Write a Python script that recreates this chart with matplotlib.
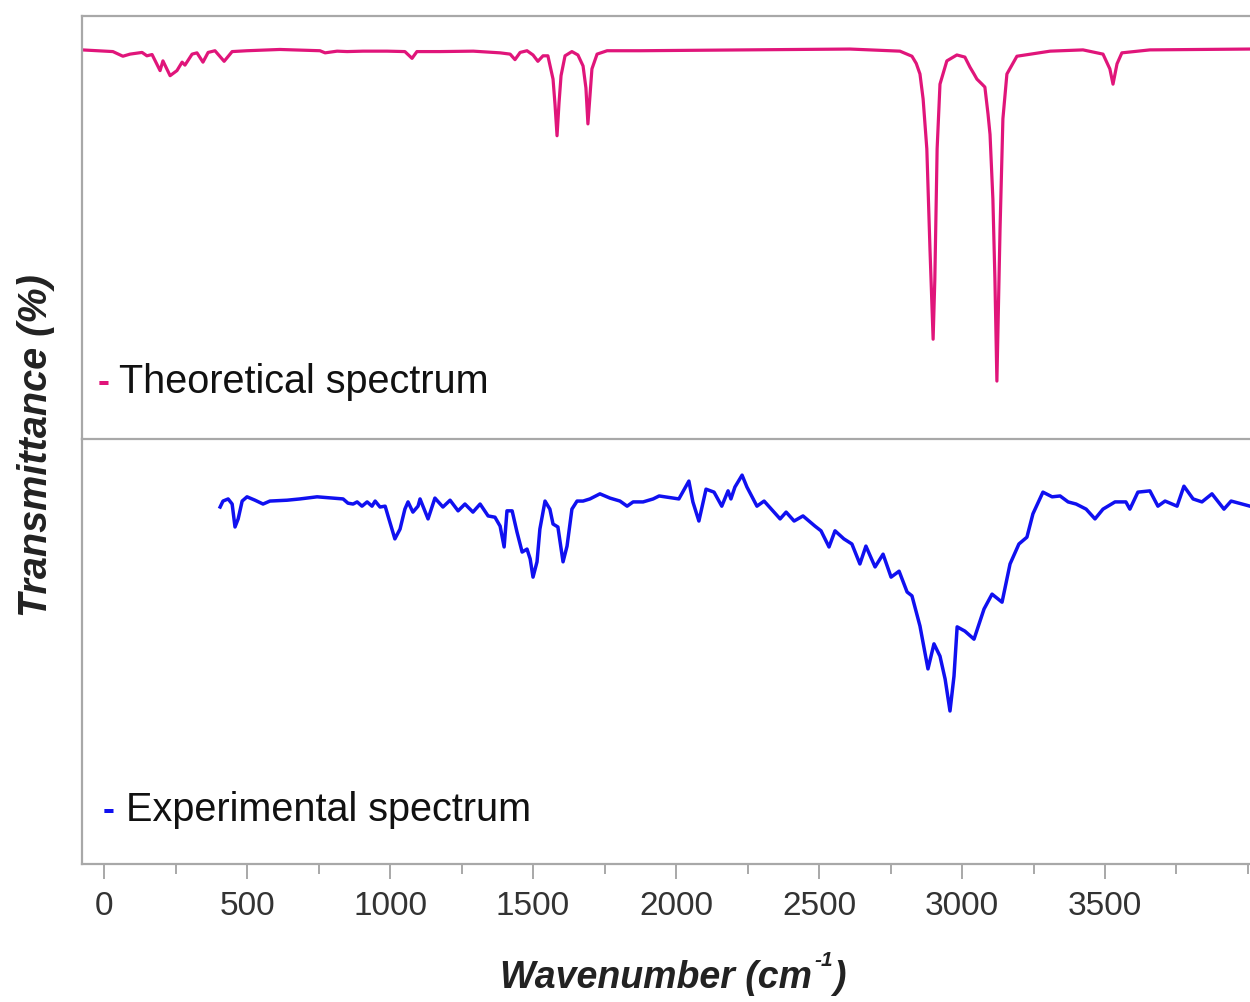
import matplotlib
matplotlib.use("Agg")
import matplotlib.pyplot as plt
from matplotlib.ticker import MultipleLocator

plt.rcParams["font.family"] = ["Liberation Sans", "DejaVu Sans"]

# theoretical spectrum
theo_x = [-77, 31, 66, 91, 133, 150, 168, 196, 206, 231, 255, 273, 283, 308, 325,
          346, 364, 388, 420, 448, 500, 615, 755, 773, 815, 850, 906, 990, 1052,
          1077, 1094, 1175, 1291, 1385, 1420, 1437, 1455, 1479, 1500, 1517, 1535,
          1552, 1570, 1577, 1584, 1591, 1598, 1612, 1636, 1657, 1675, 1685, 1692,
          1699, 1706, 1724, 1759, 1874, 2608, 2783, 2825, 2840, 2853, 2864, 2877,
          2888, 2899, 2905, 2913, 2923, 2947, 2982, 3010, 3028, 3042, 3052, 3070,
          3080, 3091, 3098, 3108, 3115, 3122, 3133, 3143, 3157, 3192, 3308, 3423,
          3493, 3517, 3528, 3542, 3559, 3657, 4007]
theo_y = [92.0, 91.6, 90.5, 91.0, 91.4, 90.6, 90.9, 87.1, 89.4, 85.9, 87.1, 89.1,
          88.4, 91.0, 91.3, 89.1, 91.4, 91.8, 89.3, 91.6, 91.8, 92.1, 91.8, 91.3,
          91.7, 91.6, 91.7, 91.7, 91.6, 90.0, 91.6, 91.6, 91.7, 91.3, 91.0, 89.7,
          91.4, 91.8, 90.8, 89.3, 90.6, 90.6, 85.1, 79.0, 71.7, 79.5, 85.9, 90.6,
          91.6, 90.8, 88.2, 83.0, 74.5, 81.0, 87.5, 91.0, 91.8, 91.8, 92.2, 91.7,
          90.5, 88.8, 86.3, 80.4, 68.6, 44.9, 23.6, 37.8, 68.6, 83.9, 89.4, 90.8,
          90.3, 87.9, 86.3, 85.1, 83.9, 83.2, 76.8, 72.0, 56.7, 38.0, 13.7, 49.6,
          75.7, 86.3, 90.5, 91.7, 92.0, 91.0, 87.5, 83.9, 88.7, 91.3, 92.0, 92.2]

# experimental spectrum
exp_x = [406, 416, 434, 448, 458, 469, 483, 500, 528, 556, 580, 640, 685, 745, 801,
         836, 853, 871, 885, 902, 920, 937, 948, 965, 983, 993, 1017, 1035, 1052,
         1063, 1080, 1098, 1105, 1133, 1157, 1185, 1210, 1238, 1262, 1290, 1315,
         1343, 1367, 1385, 1399, 1409, 1427, 1444, 1462, 1479, 1490, 1500, 1514,
         1524, 1542, 1559, 1570, 1587, 1605, 1619, 1636, 1654, 1675, 1699, 1734,
         1769, 1804, 1829, 1850, 1885, 1920, 1941, 2010, 2045, 2059, 2080, 2105,
         2133, 2160, 2182, 2192, 2206, 2231, 2248, 2283, 2308, 2364, 2385, 2413,
         2444, 2486, 2507, 2535, 2556, 2587, 2615, 2643, 2664, 2696, 2724, 2752,
         2780, 2808, 2825, 2853, 2881, 2902, 2923, 2941, 2958, 2972, 2983, 3010,
         3042, 3077, 3105, 3140, 3168, 3199, 3227, 3248, 3283, 3315, 3343, 3371,
         3399, 3434, 3465, 3493, 3535, 3573, 3587, 3615, 3657, 3685, 3710, 3752,
         3776, 3808, 3839, 3874, 3916, 3941, 4007]
exp_y = [84.0, 85.4, 85.9, 84.7, 79.3, 81.2, 85.4, 86.4, 85.6, 84.7, 85.4, 85.6,
         85.9, 86.4, 86.1, 85.9, 84.9, 84.7, 85.2, 84.2, 85.2, 84.2, 85.4, 84.0,
         84.2, 81.9, 76.5, 78.8, 83.5, 85.2, 82.8, 84.2, 85.9, 81.2, 86.1, 84.0,
         85.6, 83.1, 84.7, 82.8, 84.7, 81.9, 81.6, 79.5, 74.6, 83.1, 83.1, 78.1,
         73.4, 74.1, 71.8, 67.5, 71.1, 78.8, 85.4, 83.5, 80.0, 79.3, 71.1, 74.8,
         83.5, 85.4, 85.4, 85.9, 87.1, 86.1, 85.4, 84.2, 85.2, 85.2, 85.9, 86.6,
         85.9, 90.1, 85.2, 80.7, 88.2, 87.5, 84.2, 87.8, 85.9, 88.7, 91.5, 88.7,
         84.2, 85.4, 81.2, 82.8, 80.7, 81.9, 79.5, 78.4, 74.6, 78.4, 76.5, 75.3,
         70.6, 74.8, 69.9, 72.9, 67.5, 68.9, 64.0, 63.1, 56.0, 45.9, 51.8, 48.9,
         43.5, 36.0, 44.2, 55.8, 54.8, 52.9, 60.0, 63.5, 61.6, 70.6, 75.3, 76.9,
         82.4, 87.5, 86.4, 86.6, 85.2, 84.7, 83.5, 81.2, 83.5, 85.2, 85.2, 83.5,
         87.5, 87.8, 84.2, 85.4, 84.2, 88.9, 85.9, 85.2, 87.1, 83.5, 85.4, 84.2]

tick_vals = [0, 500, 1000, 1500, 2000, 2500, 3000, 3500]

PINK = "#e0157a"
BLUE = "#1010f0"
SPINE = "#a8a8a8"

fig = plt.figure(figsize=(12.5, 10.03), dpi=100)
ax_top = fig.add_axes([0.0656, 0.5613, 0.9344, 0.4217])
ax_bot = fig.add_axes([0.0656, 0.1376, 0.9344, 0.4237], sharex=ax_top)

ax_top.plot(theo_x, theo_y, color=PINK, lw=2.3, solid_joinstyle="round")
ax_bot.plot(exp_x, exp_y, color=BLUE, lw=2.5, solid_joinstyle="round")

for ax in (ax_top, ax_bot):
    ax.set_xlim(-77, 4007)
    ax.set_ylim(0, 100)
    ax.set_yticks([])
    ax.spines["right"].set_visible(False)
    for s in ("top", "left", "bottom"):
        ax.spines[s].set_color(SPINE)
        ax.spines[s].set_linewidth(1.6)

ax_top.spines["bottom"].set_visible(False)
ax_top.tick_params(axis="x", which="both", bottom=False, labelbottom=False)

ax_bot.xaxis.set_minor_locator(MultipleLocator(250))
ax_bot.set_xticks(tick_vals)
ax_bot.tick_params(axis="x", which="major", direction="out", length=11, width=1.4,
                   color=SPINE, labelsize=24, labelcolor="#333333", pad=8)
ax_bot.tick_params(axis="x", which="minor", direction="out", length=7, width=1.4,
                   color=SPINE)

fig.text(0.029, 0.556, "Transmittance (%)", rotation=90, fontsize=28.5,
         fontweight="bold", fontstyle="italic", color="#222222",
         ha="center", va="center")

# x label built from pieces so the superscript stays small
renderer = fig.canvas.get_renderer()
lab_kw = dict(fontsize=27, fontweight="bold", fontstyle="italic", color="#222222",
              va="baseline")
t1 = fig.text(500 / 1250, 1 - 988 / 1003, "Wavenumber (cm", **lab_kw)
bb = t1.get_window_extent(renderer)
t2 = fig.text(bb.x1 / 1250 + 0.002, 1 - 966 / 1003, "-1", fontsize=15,
              fontweight="bold", fontstyle="italic", color="#222222", va="baseline")
bb2 = t2.get_window_extent(renderer)
fig.text(bb2.x1 / 1250, 1 - 988 / 1003, ")", **lab_kw)

# series labels
ax_top.text(0.013, 0.137, "-", color=PINK, fontsize=26, fontweight="bold",
            transform=ax_top.transAxes, va="center")
ax_top.text(0.032, 0.137, "Theoretical spectrum", color="#111111", fontsize=28.5,
            transform=ax_top.transAxes, va="center")
ax_bot.text(0.018, 0.129, "-", color=BLUE, fontsize=26, fontweight="bold",
            transform=ax_bot.transAxes, va="center")
ax_bot.text(0.038, 0.129, "Experimental spectrum", color="#111111", fontsize=28.5,
            transform=ax_bot.transAxes, va="center")

fig.savefig("out.png", dpi=100)
